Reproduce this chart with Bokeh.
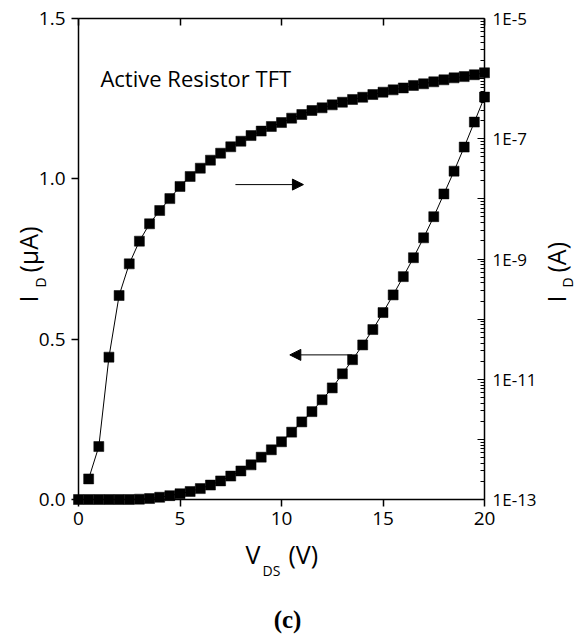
from bokeh.plotting import figure
from bokeh.models import (Range1d, LogScale, LinearAxis, LogAxis, FixedTicker,
                          CustomJSTickFormatter, PrintfTickFormatter, Label, Arrow, NormalHead)
from bokeh.embed import file_html
from bokeh.resources import INLINE

# ---------------- data ----------------
vds_lin = [0, 0.5, 1, 1.5, 2, 2.5, 3, 3.5, 4, 4.5, 5, 5.5, 6, 6.5, 7, 7.5, 8, 8.5, 9, 9.5,
           10, 10.5, 11, 11.5, 12, 12.5, 13, 13.5, 14, 14.5, 15, 15.5, 16, 16.5, 17, 17.5,
           18, 18.5, 19, 19.5, 20]
id_lin_uA = [0, 0, 0, 0, 0, 0, 0.001, 0.003, 0.007, 0.012, 0.018, 0.025, 0.034, 0.045,
             0.058, 0.073, 0.089, 0.108, 0.132, 0.155, 0.180, 0.210, 0.242, 0.274, 0.311,
             0.348, 0.392, 0.436, 0.482, 0.530, 0.583, 0.638, 0.695, 0.754, 0.816, 0.882,
             0.953, 1.024, 1.099, 1.177, 1.255]

vds_log = [0.5, 1, 1.5, 2, 2.5, 3, 3.5, 4, 4.5, 5, 5.5, 6, 6.5, 7, 7.5, 8, 8.5, 9, 9.5,
           10, 10.5, 11, 11.5, 12, 12.5, 13, 13.5, 14, 14.5, 15, 15.5, 16, 16.5, 17, 17.5,
           18, 18.5, 19, 19.5, 20]
id_log_A = [2.2e-13, 7.6e-13, 2.33e-11, 2.47e-10, 8.3e-10, 1.98e-9, 3.85e-9, 6.4e-9,
            1.01e-8, 1.61e-8, 2.36e-8, 3.24e-8, 4.4e-8, 5.75e-8, 7.35e-8, 9.1e-8, 1.13e-7,
            1.34e-7, 1.6e-7, 1.86e-7, 2.2e-7, 2.53e-7, 2.95e-7, 3.27e-7, 3.66e-7, 4.05e-7,
            4.5e-7, 4.9e-7, 5.44e-7, 5.95e-7, 6.5e-7, 7.0e-7, 7.7e-7, 8.2e-7, 8.85e-7,
            9.55e-7, 1.03e-6, 1.08e-6, 1.16e-6, 1.25e-6]

x_lim = (0, 20)
y_lim = (0, 1.5)
log_lim_exp = (-13, -5)
x_ticks = [0, 5, 10, 15, 20]
y_left_ticks = [0, 0.5, 1.0, 1.5]
log_decades = list(range(-13, -4))

annotation_text = "Active Resistor TFT"
arrow_right = (7.73, 11.08, 0.982)   # x_start, x_end, y (left-axis units)
arrow_left = (13.48, 10.41, 0.451)

FONT = "Open Sans"

# ---------------- layout (pixels) ----------------
W, H = 581, 634
BOX_L, BOX_R, BOX_T, BOX_B = 78, 484, 18, 499

ppx = (BOX_R - BOX_L) / (x_lim[1] - x_lim[0])
ppy = (BOX_B - BOX_T) / (y_lim[1] - y_lim[0])
ppd = (BOX_B - BOX_T) / (log_lim_exp[1] - log_lim_exp[0])

x_range = Range1d(x_lim[0] - BOX_L / ppx, x_lim[1] + (W - BOX_R) / ppx)
y_range = Range1d(y_lim[0] - (H - BOX_B) / ppy, y_lim[1] + BOX_T / ppy)
log_range = Range1d(10 ** (log_lim_exp[0] - (H - BOX_B) / ppd),
                    10 ** (log_lim_exp[1] + BOX_T / ppd))

p = figure(width=W, height=H, output_backend="svg", toolbar_location=None,
           x_range=x_range, y_range=y_range, x_axis_location=None, y_axis_location=None,
           min_border=0, min_border_left=0, min_border_right=0, min_border_top=0,
           min_border_bottom=0, background_fill_color="white", border_fill_color="white")
p.outline_line_color = None
p.grid.visible = False

p.extra_y_ranges = {"log": log_range}
p.extra_y_scales = {"log": LogScale()}

blank = CustomJSTickFormatter(code='return "";')

# bottom axis
xa = LinearAxis(fixed_location=y_lim[0], bounds=x_lim, ticker=FixedTicker(ticks=x_ticks),
                major_tick_out=7, major_tick_in=0, minor_tick_line_color=None,
                axis_line_width=1.5, major_tick_line_width=1.5, major_label_standoff=5,
                major_label_text_font=FONT, major_label_text_font_size="19px",
                major_label_text_color="black")
p.add_layout(xa, "below")

# top axis (ticks only, inward)
top = LinearAxis(fixed_location=y_lim[1], bounds=x_lim, ticker=FixedTicker(ticks=x_ticks),
                 formatter=blank, major_tick_in=7, major_tick_out=0,
                 minor_tick_line_color=None, axis_line_width=1.5, major_tick_line_width=1.5)
p.add_layout(top, "above")

# left axis
ya = LinearAxis(fixed_location=x_lim[0], bounds=y_lim, ticker=FixedTicker(ticks=y_left_ticks),
                formatter=PrintfTickFormatter(format="%.1f"), major_tick_out=7,
                major_tick_in=0, minor_tick_line_color=None, axis_line_width=1.5,
                major_tick_line_width=1.5, major_label_standoff=6,
                major_label_text_font=FONT, major_label_text_font_size="19px",
                major_label_text_color="black")
p.add_layout(ya, "left")

# right log axis
minor = [m * 10.0 ** e for e in range(log_lim_exp[0], log_lim_exp[1]) for m in range(2, 10)]
right = LogAxis(y_range_name="log", fixed_location=x_lim[1],
                bounds=(10.0 ** log_lim_exp[0], 10.0 ** log_lim_exp[1]),
                ticker=FixedTicker(ticks=[10.0 ** e for e in log_decades], minor_ticks=minor),
                formatter=CustomJSTickFormatter(code="""
                    const e = Math.round(Math.log10(tick));
                    return (Math.abs(e) % 2 == 1) ? "1E" + e : "";
                """),
                major_tick_in=7, major_tick_out=0, minor_tick_in=4, minor_tick_out=0,
                axis_line_width=1.5, major_tick_line_width=1.2, minor_tick_line_width=1,
                major_label_standoff=8, major_label_text_font=FONT,
                major_label_text_font_size="17px", major_label_text_color="black")
p.add_layout(right, "right")

# ---------------- data glyphs ----------------
p.line(vds_lin, id_lin_uA, line_color="black", line_width=1)
p.scatter(vds_lin, id_lin_uA, marker="square", size=10, fill_color="black", line_color="black",
          line_width=0.5)

p.line(vds_log, id_log_A, line_color="black", line_width=1, y_range_name="log")
p.scatter(vds_log, id_log_A, marker="square", size=10, fill_color="black", line_color="black",
          line_width=0.5, y_range_name="log")

# ---------------- annotations ----------------
for xs, xe, yy in (arrow_right, arrow_left):
    p.add_layout(Arrow(x_start=xs, y_start=yy, x_end=xe, y_end=yy, line_color="black",
                       line_width=1,
                       end=NormalHead(size=11, fill_color="black", line_color="black")))

p.add_layout(Label(x=1.08, y=1.316, text=annotation_text, text_baseline="middle",
                   text_font=FONT, text_font_size="22px", text_color="black"))


def slabel(cx, cy, text, size, angle=0.0, align="left", font=FONT, style="normal"):
    # cx, cy: canvas pixels from the top-left corner (centre line of the text)
    p.add_layout(Label(x=cx, y=H - cy, x_units="screen", y_units="screen", text=text,
                       angle=angle, text_align=align, text_baseline="middle",
                       text_font=font, text_font_size=size, text_font_style=style,
                       text_color="black"))


HALF_PI = 1.5707963267948966
# left title: I_D (µA)
slabel(27, 302, "I", "25px", angle=HALF_PI)
slabel(39.5, 287, "D", "14px", angle=HALF_PI)
slabel(27, 272, "(\u00b5A)", "25px", angle=HALF_PI)
# right title: I_D (A)
slabel(555, 302, "I", "25px", angle=HALF_PI)
slabel(567, 287, "D", "14px", angle=HALF_PI)
slabel(555, 272, "(A)", "25px", angle=HALF_PI)
# bottom title: V_DS (V)
slabel(245, 553, "V", "25px")
slabel(262, 569.5, "DS", "14px")
slabel(288, 553, "(V)", "25px")
# caption
slabel(287, 619, "(c)", "25px", align="center", font="Liberation Serif", style="bold")

open("out.html", "w").write(file_html(p, INLINE))
